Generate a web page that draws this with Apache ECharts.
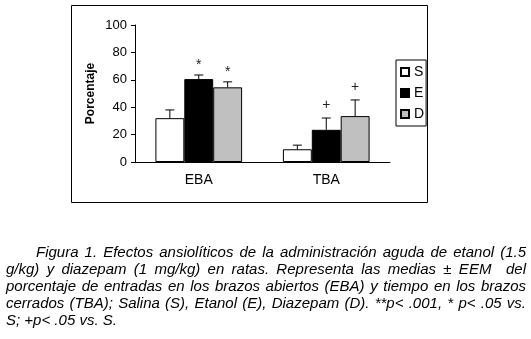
<!DOCTYPE html>
<html>
<head>
<meta charset="utf-8">
<script src="https://cdn.jsdelivr.net/npm/echarts@6/dist/echarts.min.js"></script>
<style>
  body { margin: 0; background: #fff; }
  #wrap { position: relative; width: 531px; height: 339px; }
  #chart { position: absolute; left: 0; top: 0; width: 531px; height: 339px; }
  #caption {
    position: absolute; left: 6px; top: 243px; width: 520px;
    font-family: "Liberation Sans", Arial, sans-serif; font-style: italic;
    font-size: 15px; line-height: 17px; color: #000;
  }
  #caption div { text-align: justify; text-align-last: justify; white-space: nowrap; }
  #caption div.last { text-align-last: left; }
</style>
</head>
<body>
<div id="wrap">
  <div id="chart"></div>
  <div id="caption">
    <div style="padding-left:30px">Figura 1. Efectos ansiolíticos de la administración aguda de etanol (1.5</div>
    <div>g/kg) y diazepam (1 mg/kg) en ratas. Representa las medias ± EEM &nbsp;del</div>
    <div>porcentaje de entradas en los brazos abiertos (EBA) y tiempo en los brazos</div>
    <div>cerrados (TBA); Salina (S), Etanol (E), Diazepam (D). **p&lt; .001, * p&lt; .05 vs.</div>
    <div class="last">S; +p&lt; .05 vs. S.</div>
  </div>
</div>
<script>
// datos
var categories = ['EBA', 'TBA'];
var seriesNames = ['S', 'E', 'D'];
var salina = [32, 9.3];
var etanol = [60.5, 23.5];
var diazepam = [54.5, 33.5];
var salinaErr = [6, 3];
var etanolErr = [3, 8.6];
var diazepamErr = [4, 11.8];
var marks = [['', ''], ['*', '+'], ['*', '+']];

var values = [salina, etanol, diazepam];
var errors = [salinaErr, etanolErr, diazepamErr];
var fills = ['#ffffff', '#000000', '#c0c0c0'];
var gapRatio = 0.32;

var chart = echarts.init(document.getElementById('chart'));

var series = [];
seriesNames.forEach(function (name, i) {
  series.push({
    name: name,
    type: 'bar',
    barGap: 0,
    barCategoryGap: gapRatio * 100 + '%',
    itemStyle: { color: fills[i], borderColor: '#000', borderWidth: 1 },
    data: values[i]
  });
});

seriesNames.forEach(function (name, i) {
  series.push({
    type: 'custom',
    silent: true,
    z: 3,
    data: values[i].map(function (v, j) { return [j, v, v + errors[i][j]]; }),
    renderItem: function (params, api) {
      var cat = api.value(0);
      var base = api.coord([cat, api.value(1)]);
      var top = api.coord([cat, api.value(2)]);
      var bw = api.size([1, 0])[0] * (1 - gapRatio) / 3;
      var x = base[0] + (i - 1) * bw;
      var children = [
        { type: 'line', shape: { x1: x, y1: base[1], x2: x, y2: top[1] }, style: { stroke: '#000', lineWidth: 1 } },
        { type: 'line', shape: { x1: x - 4.5, y1: top[1], x2: x + 4.5, y2: top[1] }, style: { stroke: '#000', lineWidth: 1 } }
      ];
      var m = marks[i][cat];
      if (m) {
        children.push({
          type: 'text',
          style: {
            x: x, y: top[1] - (m === '*' ? 3 : 6), text: m,
            textAlign: 'center', textVerticalAlign: 'bottom',
            font: '14px "Liberation Sans", Arial', fill: '#222'
          }
        });
      }
      return { type: 'group', children: children };
    }
  });
});

var option = {
  animation: false,
  backgroundColor: '#fff',
  textStyle: { fontFamily: '"Liberation Sans", Arial, sans-serif' },
  graphic: [{
    type: 'rect',
    shape: { x: 71.5, y: 5.5, width: 356, height: 197 },
    style: { fill: 'none', stroke: '#000', lineWidth: 1 },
    silent: true
  }],
  legend: {
    orient: 'vertical',
    left: 396, top: 60,
    data: seriesNames,
    icon: 'rect',
    itemWidth: 8, itemHeight: 8, itemGap: 7,
    padding: [5, 2, 5, 4],
    borderColor: '#000', borderWidth: 1,
    textStyle: { fontSize: 14, color: '#000', padding: [0, 0, 0, 0] }
  },
  grid: { left: 135, right: 141, top: 25, bottom: 177 },
  xAxis: {
    type: 'category',
    data: categories,
    axisLine: { lineStyle: { color: '#000', width: 1 } },
    axisTick: { show: false },
    axisLabel: { color: '#000', fontSize: 14, margin: 11 }
  },
  yAxis: {
    type: 'value',
    min: 0, max: 100, interval: 20,
    name: 'Porcentaje',
    nameLocation: 'middle',
    nameGap: 38,
    nameTextStyle: { fontSize: 12, fontWeight: 'bold', color: '#000' },
    axisLine: { show: true, lineStyle: { color: '#000', width: 1 } },
    axisTick: { show: true, length: 4, lineStyle: { color: '#000' } },
    axisLabel: { color: '#000', fontSize: 13, margin: 8 },
    splitLine: { show: false }
  },
  series: series
};
chart.setOption(option);
</script>
</body>
</html>
